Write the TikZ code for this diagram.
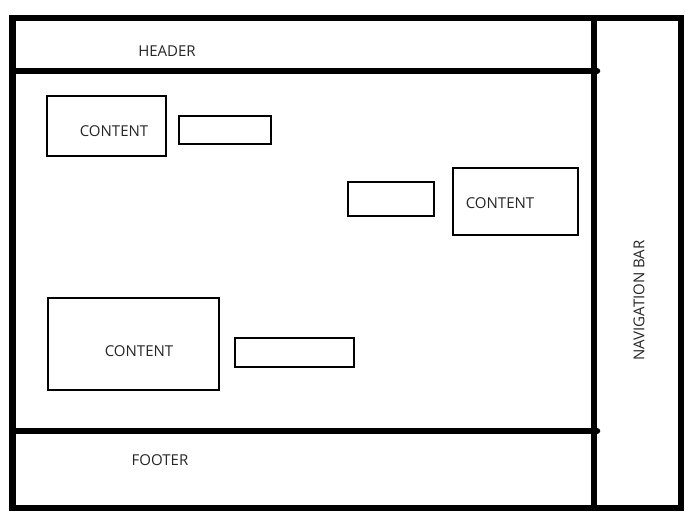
\documentclass[tikz,border=0pt]{standalone}
\usepackage{fontspec}
\setmainfont{Open Sans}
\usetikzlibrary{positioning}

\begin{document}
\begin{tikzpicture}[x=1pt,y=-1pt,
  frame/.style={line width=6.5pt},
  box/.style={line width=2pt},
  lbl/.style={font=\fontsize{15}{18}\selectfont,text=black!85,inner sep=0pt}]
\fill[white] (0,0) rectangle (696,523);
\useasboundingbox (0,0) rectangle (696,523);
% page frame
\draw[frame] (12.5,18) rectangle (681,508);
\draw[frame] (594,18) -- (594,508);
\draw[frame,line cap=round] (12.5,71) -- (597,71);
\draw[frame,line cap=round] (12.5,431) -- (597,431);
% content blocks
\draw[box] (47,96) rectangle (166,156);
\draw[box] (179,116) rectangle (271,144);
\draw[box] (348,182) rectangle (434,216);
\draw[box] (453,168) rectangle (578,235);
\draw[box] (48,298) rectangle (219,390);
\draw[box] (235,338) rectangle (354,367);
% labels
\node[lbl] (header) at (167,51) {HEADER};
\node[lbl] (footer) at (160,460) {FOOTER};
\node[lbl] (contentA) at (114,131.5) {CONTENT};
\node[lbl] (contentB) at (500,203.5) {CONTENT};
\node[lbl] (contentC) at (139,351.5) {CONTENT};
\node[lbl,rotate=90] (navbar) at (639,300.5) {NAVIGATION BAR};
\end{tikzpicture}
\end{document}
